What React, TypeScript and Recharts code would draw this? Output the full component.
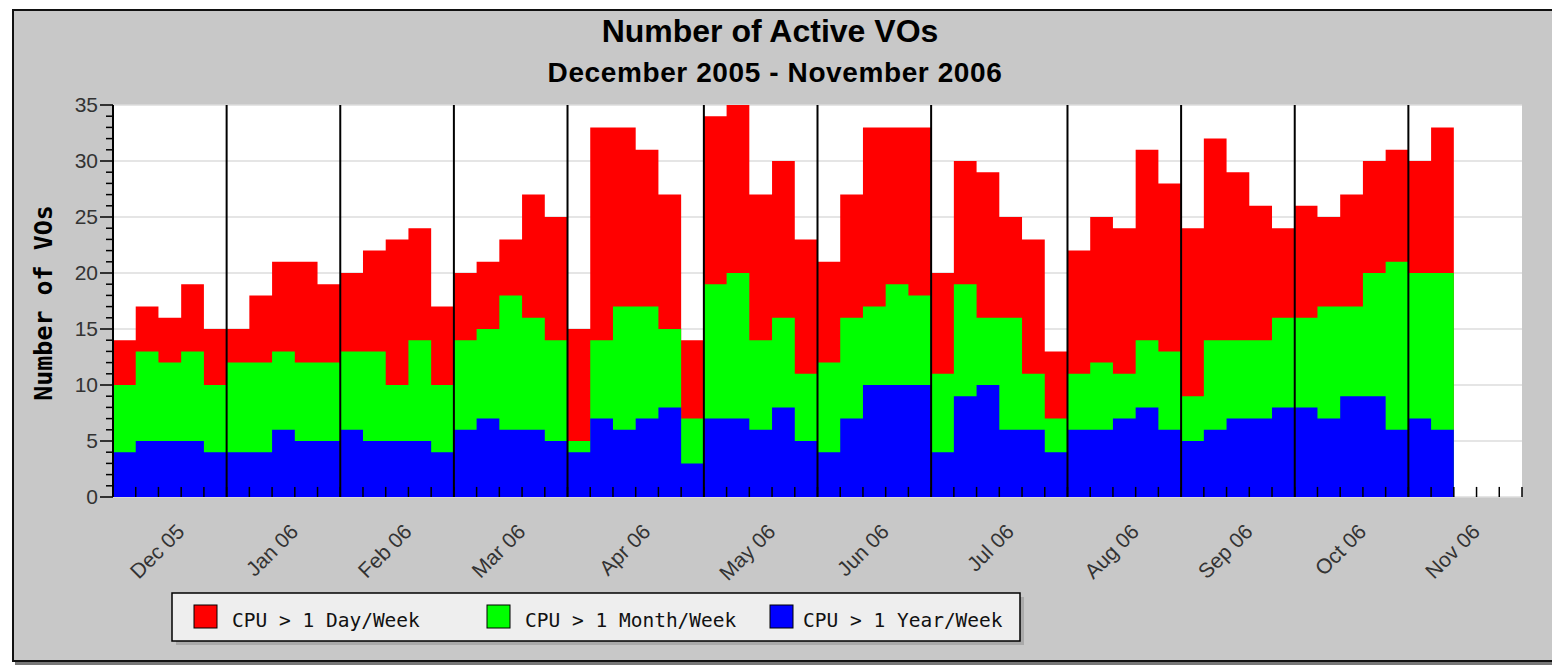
import React from 'react';
import { ComposedChart, Area, XAxis, YAxis, CartesianGrid, ReferenceLine } from 'recharts';

// month labels and how many weekly bins each month spans on the axis
const monthLabels = ['Dec 05', 'Jan 06', 'Feb 06', 'Mar 06', 'Apr 06', 'May 06', 'Jun 06', 'Jul 06', 'Aug 06', 'Sep 06', 'Oct 06', 'Nov 06'];
const weeksPerMonth = [5, 5, 5, 5, 6, 5, 5, 6, 5, 5, 5, 5];

// active VOs per week (totals for each CPU threshold)
const cpuDay = [
  14, 17, 16, 19, 15,
  15, 18, 21, 21, 19,
  20, 22, 23, 24, 17,
  20, 21, 23, 27, 25,
  15, 33, 33, 31, 27, 14,
  34, 35, 27, 30, 23,
  21, 27, 33, 33, 33,
  20, 30, 29, 25, 23, 13,
  22, 25, 24, 31, 28,
  24, 32, 29, 26, 24,
  26, 25, 27, 30, 31,
  30, 33,
];
const cpuMonth = [
  10, 13, 12, 13, 10,
  12, 12, 13, 12, 12,
  13, 13, 10, 14, 10,
  14, 15, 18, 16, 14,
  5, 14, 17, 17, 15, 7,
  19, 20, 14, 16, 11,
  12, 16, 17, 19, 18,
  11, 19, 16, 16, 11, 7,
  11, 12, 11, 14, 13,
  9, 14, 14, 14, 16,
  16, 17, 17, 20, 21,
  20, 20,
];
const cpuYear = [
  4, 5, 5, 5, 4,
  4, 4, 6, 5, 5,
  6, 5, 5, 5, 4,
  6, 7, 6, 6, 5,
  4, 7, 6, 7, 8, 3,
  7, 7, 6, 8, 5,
  4, 7, 10, 10, 10,
  4, 9, 10, 6, 6, 4,
  6, 6, 7, 8, 6,
  5, 6, 7, 7, 8,
  8, 7, 9, 9, 6,
  7, 6,
];

const yTicks = [0, 1, 2, 3, 4, 5, 6, 7, 8, 9, 10, 11, 12, 13, 14, 15, 16, 17, 18, 19, 20, 21, 22, 23, 24, 25, 26, 27, 28, 29, 30, 31, 32, 33, 34, 35];
const gridValues = [5, 10, 15, 20, 25, 30, 35];
// length of the inner week tick marks, in axis units
const weekTickLen = 0.9;

const seriesInfo = [
  { key: 'day', name: 'CPU > 1 Day/Week', color: '#ff0000' },
  { key: 'month', name: 'CPU > 1 Month/Week', color: '#00ff00' },
  { key: 'year', name: 'CPU > 1 Year/Week', color: '#0000ff' },
];

const monthStarts: number[] = [];
weeksPerMonth.reduce((acc, n) => {
  monthStarts.push(acc);
  return acc + n;
}, 0);
const totalWeeks = weeksPerMonth.reduce((a, b) => a + b, 0);
const monthCenters = monthStarts.map((s, i) => s + weeksPerMonth[i] / 2);
const weekTicks = Array.from({ length: totalWeeks + 1 }, (_, i) => i);

const data = cpuDay.map((d, i) => ({ w: i, day: d, month: cpuMonth[i], year: cpuYear[i] }));
// closing point so the last step is drawn to its full width
const last = data[data.length - 1];
data.push({ ...last, w: data.length });

const MonthTick = (props: any) => {
  const { x, y, payload } = props;
  const idx = monthCenters.indexOf(payload.value);
  const tx = x + 16;
  const ty = y + 36;
  return (
    <text
      x={tx}
      y={ty}
      transform={`rotate(-45, ${tx}, ${ty})`}
      textAnchor="end"
      fontFamily="'Liberation Sans', Arial, sans-serif"
      fontSize={21}
      fill="#333"
    >
      {monthLabels[idx]}
    </text>
  );
};

const YTick = (props: any) => {
  const { x, y, payload } = props;
  const v = payload.value;
  const major = v % 5 === 0;
  return (
    <g>
      <line x1={x} x2={x - (major ? 13 : 7)} y1={y} y2={y} stroke="#000" strokeWidth={1.5} />
      {major && (
        <text
          x={x - 15}
          y={y + 7}
          textAnchor="end"
          fontFamily="'Liberation Sans', Arial, sans-serif"
          fontSize={21}
          fill="#333"
        >
          {v}
        </text>
      )}
    </g>
  );
};

export default function App() {
  return (
    <div style={{ position: 'absolute', left: 0, top: 0, width: 1552, height: 667, overflow: 'hidden', background: '#fff' }}>
      <div
        style={{
          position: 'absolute',
          left: 12,
          top: 9,
          width: 1600,
          height: 653,
          boxSizing: 'border-box',
          border: '2px solid #111',
          background: '#c8c8c8',
          boxShadow: '3px 3px 0 #777',
        }}
      />
      <svg width={1552} height={667} style={{ position: 'absolute', left: 0, top: 0 }}>
        <text x={770} y={42} textAnchor="middle" fontFamily="'Liberation Sans', Arial, sans-serif" fontWeight="bold" fontSize={32} fill="#000">
          Number of Active VOs
        </text>
        <text x={775} y={82} textAnchor="middle" fontFamily="'Liberation Sans', Arial, sans-serif" fontWeight="bold" fontSize={28} letterSpacing={0.6} fill="#000">
          December 2005 - November 2006
        </text>
        <text
          x={52}
          y={303}
          transform="rotate(-90, 52, 303)"
          textAnchor="middle"
          fontFamily="'DejaVu Sans Mono', monospace"
          fontWeight="bold"
          fontSize={25}
          fill="#000"
        >
          Number of VOs
        </text>
      </svg>
      <div style={{ position: 'absolute', left: 0, top: 0 }}>
        <ComposedChart width={1552} height={667} data={data} margin={{ top: 105, right: 30, left: 53, bottom: 70 }}>
          <CartesianGrid
            xAxisId="wk"
            yAxisId="grid"
            vertical={false}
            fill="#fff"
            stroke="#dcdcdc"
            strokeWidth={1.5}
          />
          <XAxis
            xAxisId="wk"
            dataKey="w"
            type="number"
            domain={[0, totalWeeks]}
            allowDataOverflow
            ticks={weekTicks}
            interval={0}
            height={0}
            tick={false}
            tickLine={false}
            axisLine={{ stroke: '#000', strokeWidth: 2 }}
          />
          <XAxis
            xAxisId="lbl"
            dataKey="w"
            type="number"
            domain={[0, totalWeeks]}
            allowDataOverflow
            ticks={monthCenters}
            interval={0}
            height={100}
            tickSize={0}
            tickMargin={0}
            tickLine={false}
            tick={<MonthTick />}
            axisLine={false}
          />
          <YAxis
            type="number"
            domain={[0, 35]}
            allowDataOverflow
            ticks={yTicks}
            interval={0}
            width={60}
            tickSize={0}
            tickMargin={0}
            tickLine={false}
            tick={<YTick />}
            axisLine={{ stroke: '#000', strokeWidth: 2 }}
          />
          <YAxis yAxisId="grid" type="number" domain={[0, 35]} allowDataOverflow ticks={gridValues} interval={0} hide />
          {seriesInfo.map((s) => (
            <Area
              key={s.key}
              xAxisId="wk"
              type="stepAfter"
              dataKey={s.key}
              name={s.name}
              fill={s.color}
              fillOpacity={1}
              stroke="none"
              isAnimationActive={false}
            />
          ))}
          {monthStarts.slice(1).map((s) => (
            <ReferenceLine key={`m${s}`} xAxisId="wk" x={s} stroke="#000" strokeWidth={2} />
          ))}
          {weekTicks.map((w) => (
            <ReferenceLine
              key={`w${w}`}
              xAxisId="wk"
              segment={[{ x: w, y: 0 }, { x: w, y: weekTickLen }]}
              stroke="#000"
              strokeWidth={1.5}
            />
          ))}
        </ComposedChart>
      </div>
      <svg width={1552} height={667} style={{ position: 'absolute', left: 0, top: 0, pointerEvents: 'none' }}>
        <rect x={176} y={597} width={848} height={48} fill="#aaa" />
        <rect x={172} y={593} width={848} height={48} fill="#eeeeee" stroke="#000" strokeWidth={1.5} />
        {seriesInfo.map((s, i) => {
          const sx = [194, 487, 770][i];
          const tx = [232, 525, 803][i];
          return (
            <g key={s.key}>
              <rect x={sx} y={605} width={23} height={23} fill={s.color} stroke="#000" strokeWidth={1} />
              <text x={tx} y={627} fontFamily="'DejaVu Sans Mono', monospace" fontSize={19.5} fill="#111">
                {s.name}
              </text>
            </g>
          );
        })}
      </svg>
    </div>
  );
}
